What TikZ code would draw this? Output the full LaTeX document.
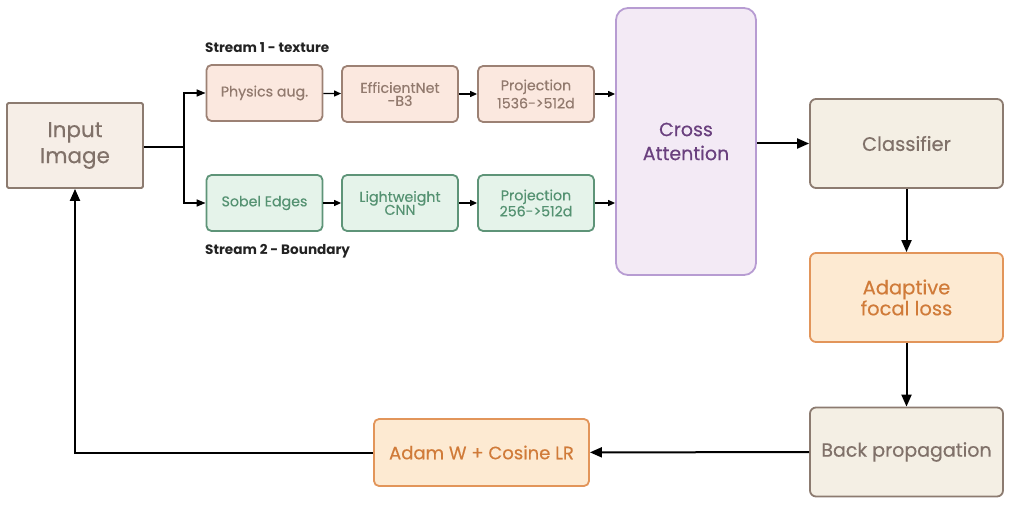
\documentclass[tikz,border=0pt]{standalone}
\usepackage{fontspec}
\setmainfont{Poppins}
\newfontfamily\medfont{Poppins}[FakeBold=0.4]
\usetikzlibrary{arrows.meta}
\definecolor{brownbd}{HTML}{8C7B70}
\definecolor{browntx}{HTML}{807169}
\definecolor{inputfill}{HTML}{F6EEE7}
\definecolor{pinkfill}{HTML}{FBE8DF}
\definecolor{pinkbd}{HTML}{9C8174}
\definecolor{pinktx}{HTML}{927A6E}
\definecolor{greenfill}{HTML}{E5F3EA}
\definecolor{greenbd}{HTML}{5E9478}
\definecolor{greentx}{HTML}{559272}
\definecolor{purpfill}{HTML}{F3EAF5}
\definecolor{purpbd}{HTML}{B79CD2}
\definecolor{purptx}{HTML}{6A407E}
\definecolor{beigefill}{HTML}{F4EFE4}
\definecolor{orangefill}{HTML}{FDEAD2}
\definecolor{orangebd}{HTML}{E2955A}
\definecolor{orangetx}{HTML}{D07B39}
\definecolor{labeltx}{HTML}{222222}
\tikzset{
  x=1pt, y=-1pt,
  box/.style={draw, line width=1.8pt, inner sep=0pt, align=center, anchor=center},
  smallbox/.style={box, minimum width=116pt, minimum height=56pt, rounded corners=5pt, font=\medfont\fontsize{14.2}{17}\selectfont},
  texbox/.style={smallbox, fill=pinkfill, draw=pinkbd, text=pinktx},
  edgebox/.style={smallbox, fill=greenfill, draw=greenbd, text=greentx},
  bigbox/.style={box, minimum width=193pt, minimum height=89pt, rounded corners=6pt, font=\medfont\fontsize{19.5}{20}\selectfont},
  streamlabel/.style={anchor=west, inner sep=0pt, font=\fontsize{13.6}{14}\bfseries\selectfont, text=labeltx},
  thin arrow/.style={line width=1.2pt, -{Triangle[length=7pt,width=6pt]}},
  thick arrow/.style={line width=2pt, -{Triangle[length=12pt,width=10pt]}},
}
\begin{document}
\begin{tikzpicture}
\useasboundingbox (0,0) rectangle (1012,505);
% nodes
\node[box, minimum width=136pt, minimum height=85pt, rounded corners=1.5pt, fill=inputfill, draw=brownbd, text=browntx, font=\medfont\fontsize{21.5}{26}\selectfont] (input) at (75,145.5) {Input\\Image};
\node[texbox] (phys) at (264.5,93) {Physics aug.};
\node[texbox, font=\medfont\fontsize{14.2}{14}\selectfont] (eff) at (400,94) {EfficientNet\\[-1pt]-B3};
\node[texbox, font=\medfont\fontsize{14.2}{18}\selectfont] (proj1) at (536,94) {Projection\\1536->512d};
\node[edgebox] (sobel) at (264.5,203) {Sobel Edges};
\node[edgebox, font=\medfont\fontsize{14.2}{14}\selectfont] (light) at (400,203) {Lightweight\\[-1pt]CNN};
\node[edgebox, font=\medfont\fontsize{14.2}{16}\selectfont] (proj2) at (536,203) {Projection\\256->512d};
\node[streamlabel] (s1) at (205,47.5) {Stream 1 - texture};
\node[streamlabel] (s2) at (205,251) {Stream 2 - Boundary};
\node[box, minimum width=140pt, minimum height=267pt, rounded corners=12pt, fill=purpfill, draw=purpbd, text=purptx, font=\medfont\fontsize{19}{24}\selectfont] (cross) at (686,141.5) {Cross\\Attention};
\node[bigbox, fill=beigefill, draw=brownbd, text=browntx] (cls) at (906.5,143.5) {Classifier};
\node[bigbox, fill=orangefill, draw=orangebd, text=orangetx, font=\medfont\fontsize{19.5}{19}\selectfont] (loss) at (906.5,297.5) {Adaptive\\focal loss};
\node[bigbox, fill=beigefill, draw=brownbd, text=browntx, font=\medfont\fontsize{19}{20}\selectfont] (back) at (906.5,452) {Back propagation};
\node[box, minimum width=215pt, minimum height=67pt, rounded corners=5pt, fill=orangefill, draw=orangebd, text=orangetx, font=\medfont\fontsize{18}{18}\selectfont] (adam) at (481.5,452.5) {Adam W + Cosine LR};
% connectors
\coordinate (split) at (184,147);
\draw[line width=2pt] (input.east |- split) -- (split);
\draw[line width=1.6pt, -{Triangle[length=9pt,width=7pt]}] (split) |- (phys.west);
\draw[line width=1.6pt, -{Triangle[length=9pt,width=7pt]}] (split) |- (sobel.west);
\draw[thin arrow] (phys) -- (eff);
\draw[thin arrow] (eff) -- (proj1);
\draw[thin arrow] (sobel) -- (light);
\draw[thin arrow] (light) -- (proj2);
\draw[thin arrow] (proj1.east) -- (cross.west |- proj1.east);
\draw[thin arrow] (proj2.east) -- (cross.west |- proj2.east);
\draw[thick arrow] (cross.east |- cls.west) -- (cls.west);
\draw[thick arrow] (cls) -- (loss);
\draw[thick arrow] (loss) -- (back);
\draw[thick arrow] (back) -- (adam);
\draw[thick arrow] (adam.west) -| (input.south);
\end{tikzpicture}
\end{document}
